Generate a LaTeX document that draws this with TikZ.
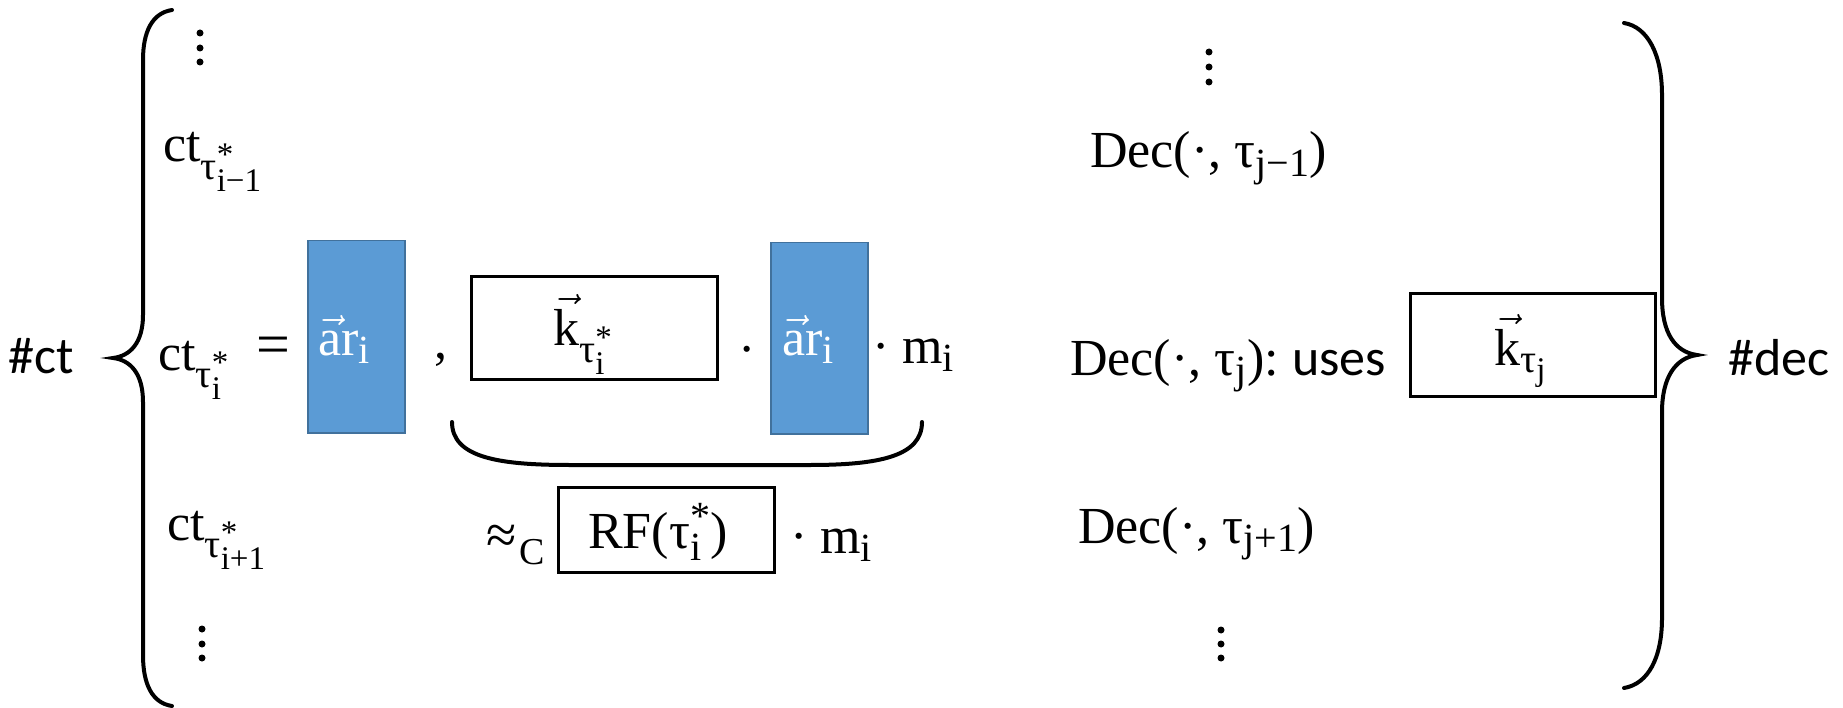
\RequirePackage{fix-cm}
\documentclass[tikz,border=0pt]{standalone}
\usepackage{amsmath}
\usepackage{fontspec}
\setmainfont{Liberation Serif}
\newfontfamily\sansf{Carlito}
\DeclareMathSizes{52}{52}{40}{33}
\newcommand\tx[1]{\text{#1}}
\definecolor{boxblue}{HTML}{5B9BD5}
\definecolor{boxblueline}{HTML}{41719C}
\begin{document}
\begin{tikzpicture}[x=1pt,y=-1pt,
  lbl/.style={inner sep=0pt, anchor=base west, font=\fontsize{52}{62}\selectfont},
  bluebox/.style={fill=boxblue, draw=boxblueline, line width=1.5pt, anchor=north west, inner sep=0pt},
  keybox/.style={draw=black, line width=3.3pt, anchor=north west, inner sep=0pt},
  bracestroke/.style={line width=4pt, line cap=round},
  vdot/.style={circle, fill=black, inner sep=0pt, minimum size=7pt}]
\useasboundingbox (0,0) rectangle (1843,708);

% boxes
\node[bluebox, minimum width=97pt, minimum height=192pt] (blueA) at (307,240) {};
\node[bluebox, minimum width=97pt, minimum height=191pt] (blueB) at (770,242) {};
\node[keybox, minimum width=246pt, minimum height=103pt] (keyA) at (470,275) {};
\node[keybox, minimum width=216pt, minimum height=85pt] (rfbox) at (557,486) {};
\node[keybox, minimum width=245pt, minimum height=103pt] (keyB) at (1409,292) {};

% left labels
\node[lbl] (hct) at (8,373) {\sansf\#ct};
\node[lbl] (ctprev) at (163,162) {$\tx{ct}_{\tx{τ}^{\tx{*}}_{\tx{i−1}}}$};
\node[lbl] (ctcur) at (158,370) {$\tx{ct}_{\tx{τ}^{\tx{*}}_{\tx{i}}}$};
\node[lbl, font=\fontsize{60}{70}\selectfont] (eq) at (256,364) {=};
\node[lbl, text=white] (arA) at (318,355) {$\vec{\tx{a}}\tx{r}_{\tx{i}}$};
\node[lbl] (comma) at (434,358) {,};
\node[lbl] (kA) at (553,345) {$\vec{\tx{k}}_{\tx{τ}^{\tx{*}}_{\tx{i}}}$};
\node[lbl] (dotA) at (738,366) {·};
\node[lbl, text=white] (arB) at (782,355) {$\vec{\tx{a}}\tx{r}_{\tx{i}}$};
\node[lbl] (mA) at (872,363) {$\tx{· m}_{\tx{i}}$};
\node[lbl, font=\fontsize{55}{64}\selectfont] (approx) at (486,553) {≈};
\node[lbl, font=\fontsize{38}{44}\selectfont] (approxC) at (519,564) {C};
\node[lbl] (rf) at (588,548) {$\tx{RF(}\tx{τ}^{\tx{*}}_{\tx{i}}\tx{)}$};
\node[lbl] (mB) at (790,553) {$\tx{· m}_{\tx{i}}$};
\node[lbl] (ctnext) at (167,540) {$\tx{ct}_{\tx{τ}^{\tx{*}}_{\tx{i+1}}}$};

% right labels
\node[lbl] (decprev) at (1090,168) {$\tx{Dec(·, }\tx{τ}_{\tx{j−1}}\tx{)}$};
\node[lbl] (deccur) at (1070,375) {$\tx{Dec(·, }\tx{τ}_{\tx{j}}\tx{):}$};
\node[lbl] (uses) at (1292,375) {\sansf uses};
\node[lbl] (kB) at (1494,365) {$\vec{\tx{k}}_{\tx{τ}_{\tx{j}}}$};
\node[lbl] (decnext) at (1078,543) {$\tx{Dec(·, }\tx{τ}_{\tx{j+1}}\tx{)}$};
\node[lbl] (hdec) at (1728,375) {\sansf\#dec};

% vertical dots
\foreach \n/\x/\y in {a/200/33, b/200/48, c/200/62, d/202/629, e/202/644, f/202/658,
                      g/1209/52, h/1209/67, k/1209/82, l/1221/630, m/1221/644, n/1221/658}
  \node[vdot] (vd\n) at (\x,\y) {};

% left brace
\draw[bracestroke] (172,10) .. controls (152,13) and (143,32) .. (143,60) -- (143,315)
  .. controls (143,343) and (130,356) .. (113,358)
  .. controls (130,360) and (143,373) .. (143,402) -- (143,655)
  .. controls (143,684) and (152,703) .. (172,706);

% right brace
\draw[bracestroke] (1624,23) .. controls (1648,27) and (1662,55) .. (1662,95) -- (1662,298)
  .. controls (1662,333) and (1675,352) .. (1697,355)
  .. controls (1675,358) and (1662,378) .. (1662,412) -- (1662,618)
  .. controls (1662,658) and (1648,684) .. (1624,688);

% curved underbrace
\coordinate (ubL) at (452,422);
\coordinate (ubR) at (922,422);
\draw[bracestroke] (ubL) .. controls (452,458) and (500,465) .. (570,465) -- (810,465)
  .. controls (880,465) and (922,456) .. (ubR);
\end{tikzpicture}
\end{document}
